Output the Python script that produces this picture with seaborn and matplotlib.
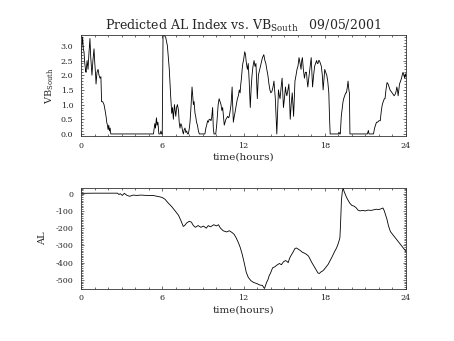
import matplotlib
matplotlib.use("Agg")
import matplotlib.pyplot as plt
import seaborn as sns
import pandas as pd
from matplotlib.ticker import MultipleLocator, FormatStrFormatter

# ---------------- data ----------------
vb_time = [0.0, 0.06, 0.12, 0.17, 0.22, 0.28, 0.33, 0.37, 0.45, 0.52, 0.58, 0.66, 0.72, 0.78,
           0.81, 0.88, 0.96, 1.02, 1.08, 1.11, 1.18, 1.26, 1.33, 1.4, 1.47, 1.52, 1.6, 1.7,
           1.78, 1.85, 1.9, 1.95, 2.0, 2.05, 2.1, 2.15, 2.2,
           5.35, 5.45, 5.5, 5.57, 5.62, 5.68, 5.75, 5.85, 5.9, 5.95, 6.0, 6.06, 6.15, 6.25,
           6.38, 6.45, 6.52, 6.62, 6.7, 6.76, 6.82, 6.9, 6.95, 7.0, 7.06, 7.12, 7.2, 7.25,
           7.31, 7.37, 7.43, 7.5, 7.56, 7.62, 7.68, 7.74, 7.8, 7.87, 7.93, 8.0, 8.05, 8.12,
           8.2, 8.25, 8.3, 8.35, 8.42, 8.47, 8.53, 8.6, 8.67, 8.74, 9.15, 9.22, 9.28, 9.35,
           9.4, 9.47, 9.53, 9.6, 9.65, 9.72, 9.77, 9.82, 9.95, 10.02, 10.07, 10.13, 10.2,
           10.27, 10.34, 10.4, 10.46, 10.52, 10.58, 10.64, 10.7, 10.77, 10.83, 10.9, 10.95,
           11.02, 11.08, 11.16, 11.2, 11.25, 11.32, 11.4, 11.47, 11.55, 11.62, 11.69, 11.75,
           11.8, 11.85, 11.9, 11.95, 12.0, 12.09, 12.15, 12.19, 12.25, 12.29, 12.35, 12.42,
           12.5, 12.57, 12.63, 12.7, 12.78, 12.85, 12.92, 12.97, 13.02, 13.1, 13.2, 13.3,
           13.4, 13.5, 13.58, 13.65, 13.72, 13.8, 13.88, 13.95, 14.02, 14.1, 14.18, 14.25,
           14.3, 14.35, 14.42, 14.46, 14.52, 14.58, 14.65, 14.7, 14.78, 14.85, 14.9, 14.95,
           15.02, 15.1, 15.15, 15.2, 15.28, 15.35, 15.4, 15.45, 15.52, 15.6, 15.65, 15.7,
           15.75, 15.8, 15.88, 15.95, 16.02, 16.1, 16.18, 16.25, 16.3, 16.35, 16.42, 16.5,
           16.57, 16.65, 16.7, 16.75, 16.82, 16.9, 16.95, 17.0, 17.05, 17.1, 17.18, 17.25,
           17.32, 17.4, 17.45, 17.5, 17.55, 17.6, 17.68, 17.75, 17.82, 17.88, 17.93, 18.0,
           18.07, 18.15, 18.22, 18.3, 18.35, 18.4, 19.0, 19.05, 19.1, 19.15, 19.22, 19.3,
           19.35, 19.4, 19.47, 19.55, 19.6, 19.67, 19.72, 19.78, 19.82, 19.86, 21.15, 21.22,
           21.27, 21.6, 21.68, 21.75, 21.82, 21.9, 22.0, 22.1, 22.18, 22.25, 22.32, 22.4,
           22.45, 22.52, 22.6, 22.68, 22.75, 22.82, 22.9, 22.97, 23.05, 23.12, 23.2, 23.27,
           23.32, 23.37, 23.42, 23.47, 23.52, 23.6, 23.67, 23.72, 23.78, 23.85, 23.9, 23.95,
           24.0]
vb_value = [2.6, 3.0, 3.3, 2.9, 2.8, 2.4, 2.2, 2.1, 2.5, 2.2, 2.7, 3.25, 2.6, 2.2,
            2.0, 2.5, 2.9, 2.4, 2.0, 1.7, 2.1, 2.2, 2.0, 1.9, 1.95, 1.1, 1.1, 1.0,
            0.8, 0.6, 0.4, 0.3, 0.15, 0.3, 0.1, 0.2, 0.0,
            0.0, 0.35, 0.2, 0.55, 0.3, 0.4, 0.0, 0.0, 0.1, 0.0, 0.0, 3.45, 3.35, 3.3,
            3.0, 2.6, 2.2, 1.3, 0.7, 0.9, 0.5, 1.0, 0.8, 0.6, 0.9, 1.0, 0.8, 0.4,
            0.2, 0.35, 0.3, 0.1, 0.0, 0.15, 0.2, 0.05, 0.1, 0.0, 0.0, 0.2, 0.4, 0.9,
            1.6, 1.3, 1.0, 1.1, 0.7, 0.6, 0.4, 0.3, 0.1, 0.0, 0.0, 0.2, 0.3, 0.45,
            0.4, 0.5, 0.5, 0.45, 0.55, 0.9, 0.2, 0.0, 0.0, 0.3, 0.6, 1.0, 1.2,
            1.1, 1.0, 0.8, 0.9, 0.6, 0.3, 0.4, 0.5, 0.55, 0.6, 0.55, 0.6,
            0.8, 1.0, 1.6, 1.0, 0.4, 0.6, 0.8, 1.0, 1.2, 1.3, 1.5, 1.4,
            1.7, 1.9, 2.2, 2.4, 2.5, 2.8, 2.7, 2.5, 2.3, 2.2, 2.4, 1.8,
            0.9, 1.6, 2.0, 2.3, 2.5, 2.3, 2.4, 1.8, 1.2, 2.0, 2.2, 2.4,
            2.6, 2.7, 2.5, 2.4, 2.2, 2.0, 1.7, 1.5, 1.4, 1.45, 1.6, 1.8,
            1.5, 1.2, 0.4, 0.0, 0.8, 1.5, 1.3, 1.2, 1.6, 1.9, 1.4, 0.9,
            1.2, 1.6, 1.4, 1.3, 1.5, 1.7, 1.2, 0.5, 1.0, 1.4, 1.0, 0.6,
            1.2, 1.8, 2.0, 2.2, 2.3, 2.6, 2.4, 2.2, 2.5, 2.6, 2.2, 1.9,
            2.1, 2.1, 1.8, 1.6, 1.9, 2.2, 2.4, 2.6, 2.1, 1.6, 2.0, 2.3,
            2.4, 2.5, 2.4, 2.4, 2.5, 2.5, 2.4, 2.3, 2.0, 1.5, 1.8, 2.2,
            2.1, 2.0, 1.8, 1.4, 0.6, 0.0, 0.0, 0.06, 0.0, 0.0, 0.6, 0.9,
            1.1, 1.2, 1.3, 1.4, 1.4, 1.6, 1.8, 1.5, 1.4, 0.0, 0.0, 0.12,
            0.0, 0.0, 0.2, 0.3, 0.4, 0.4, 0.45, 0.45, 0.8, 1.0, 1.1, 1.2,
            1.2, 1.5, 1.75, 1.7, 1.6, 1.5, 1.45, 1.4, 1.35, 1.3, 1.35, 1.45,
            1.6, 1.5, 1.3, 1.5, 1.7, 1.8, 1.9, 2.0, 2.1, 2.0, 1.9, 2.05,
            1.95]

al_time = [0.0, 1.0, 2.0, 2.7, 2.8, 2.9, 3.05, 3.2, 3.4, 3.6, 3.85, 4.1, 4.45, 4.8, 5.3,
           5.55, 5.8, 6.0, 6.2, 6.45, 6.7, 6.9, 7.05, 7.2, 7.4, 7.55, 7.65, 7.8, 8.0, 8.15,
           8.3, 8.45, 8.65, 8.85, 9.05, 9.25, 9.4, 9.55, 9.65, 9.8, 10.0, 10.15, 10.3, 10.5,
           10.75, 10.95, 11.15, 11.3, 11.45, 11.6, 11.75, 11.9, 12.05, 12.2, 12.35, 12.55,
           12.75, 13.0, 13.2, 13.4, 13.5, 13.55, 13.62, 13.7, 13.8, 13.9, 14.0, 14.15, 14.3,
           14.45, 14.55, 14.65, 14.8, 14.95, 15.1, 15.2, 15.3, 15.4, 15.5, 15.65, 15.8, 15.9,
           16.05, 16.2, 16.35, 16.5, 16.65, 16.8, 16.95, 17.05, 17.2, 17.35, 17.5, 17.6,
           17.7, 17.85, 17.95, 18.1, 18.25, 18.4, 18.55, 18.7, 18.85, 18.95, 19.05, 19.12,
           19.18, 19.23, 19.3, 19.36, 19.42, 19.5, 19.6, 19.7, 19.85, 20.0, 20.15, 20.3,
           20.45, 20.6, 20.8, 21.0, 21.2, 21.4, 21.6, 21.8, 22.0, 22.15, 22.3, 22.4, 22.5,
           22.6, 22.7, 22.85, 23.0, 23.2, 23.4, 23.6, 23.8, 24.0]
al_value = [2, 3, 3, 3, -5, 0, -10, 2, -10, -15, -8, -10, -8, -10, -10,
            -14, -18, -22, -32, -55, -75, -95, -110, -125, -160, -190, -185, -170, -160, -165,
            -185, -195, -185, -195, -188, -200, -185, -192, -188, -180, -187, -180, -200, -215,
            -222, -215, -225, -235, -255, -280, -310, -350, -400, -455, -485, -505,
            -515, -522, -530, -532, -545, -550, -535, -515, -500, -475, -460, -430, -425,
            -415, -410, -405, -412, -395, -388, -392, -400, -375, -360, -340, -318, -315,
            -322, -330, -340, -345, -352, -362, -385, -400, -420, -440, -460, -463,
            -455, -448, -440, -425, -410, -388, -365, -340, -318, -300, -275, -255,
            -150, -40, 15, 32, 15, 0, -20, -35, -55, -68, -72, -80,
            -95, -100, -97, -100, -95, -97, -94, -90, -92, -88, -83, -100, -125,
            -150, -185, -220, -235, -255, -275, -295, -315, -335]

x_ticks = [0, 6, 12, 18, 24]
vb_ticks = [0.0, 0.5, 1.0, 1.5, 2.0, 2.5, 3.0]
al_ticks = [-500, -400, -300, -200, -100, 0]

# ---------------- style ----------------
sns.set_style("ticks")
plt.rcParams['font.family'] = ['DejaVu Serif']
plt.rcParams['mathtext.fontset'] = 'dejavuserif'
plt.rcParams['axes.unicode_minus'] = False

W, H = 454, 341
fig = plt.figure(figsize=(W / 100, H / 100), dpi=100)
ax1 = fig.add_axes([81 / W, 1 - 136 / H, 325 / W, 101 / H])
ax2 = fig.add_axes([81 / W, 1 - 288.5 / H, 325 / W, 100.5 / H])

vb_df = pd.DataFrame({"time": vb_time, "vb": vb_value})
al_df = pd.DataFrame({"time": al_time, "al": al_value})

sns.lineplot(data=vb_df, x="time", y="vb", ax=ax1, color="black", lw=0.6,
             estimator=None, sort=False)
sns.lineplot(data=al_df, x="time", y="al", ax=ax2, color="black", lw=0.6,
             estimator=None, sort=False)


def style(ax, yticks, ylim, yminor, fmt):
    ax.set_xlim(0, 24)
    ax.set_ylim(*ylim)
    ax.set_xticks(x_ticks)
    ax.set_yticks(yticks)
    ax.xaxis.set_minor_locator(MultipleLocator(1))
    ax.yaxis.set_minor_locator(MultipleLocator(yminor))
    ax.yaxis.set_major_formatter(FormatStrFormatter(fmt))
    ax.tick_params(which='both', direction='in', top=True, right=True,
                   width=0.5, color='#333333', labelsize=5.8)
    ax.tick_params(which='major', length=2.4)
    ax.tick_params(which='minor', length=1.2)
    ax.tick_params(axis='x', pad=4.3)
    ax.tick_params(axis='y', pad=5.5)
    for s in ax.spines.values():
        s.set_linewidth(0.6)
        s.set_color('#333333')
    ax.set_xlabel("time(hours)", fontsize=7.5, labelpad=2)


style(ax1, vb_ticks, (-0.07, 3.37), 0.1, "%.1f")
style(ax2, al_ticks, (-550, 33), 10, "%d")

ax1.set_ylabel(r"VB$_{\mathrm{South}}$", fontsize=7)
ax1.yaxis.set_label_coords(-0.078, 0.5)
ax2.set_ylabel("AL", fontsize=7)
ax2.yaxis.set_label_coords(-0.103, 0.5)

ax1.set_title(r"Predicted AL Index vs. VB$_{\mathrm{South}}$   09/05/2001",
              fontsize=9, pad=3.5)

fig.savefig("out.png", dpi=100)
